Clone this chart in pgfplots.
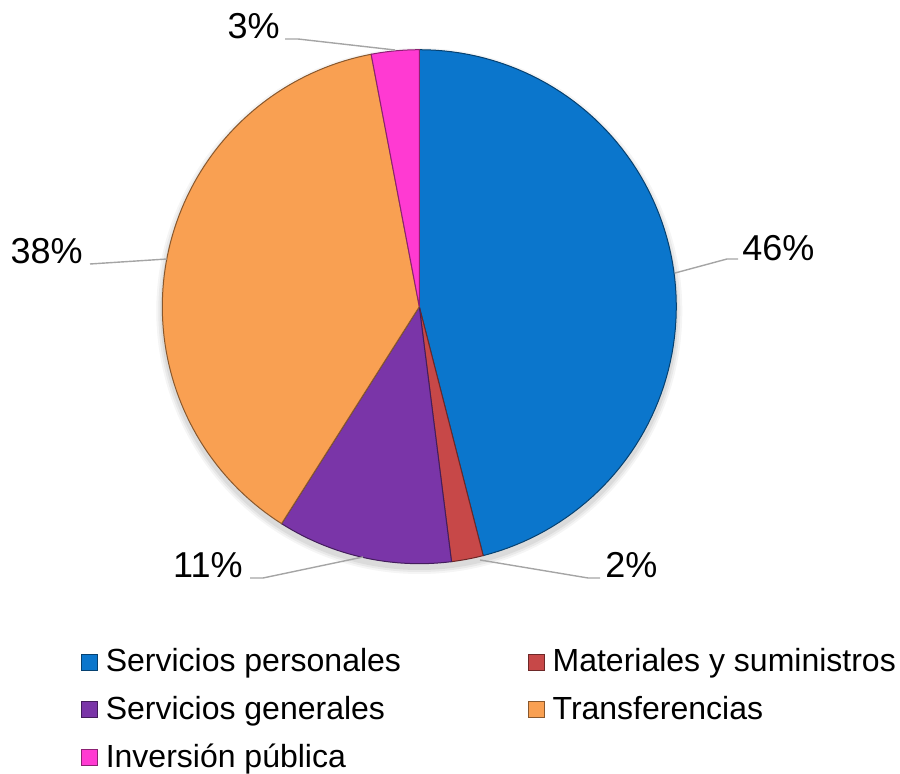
\documentclass[border=0pt]{standalone}
\usepackage{fontspec}
\setmainfont{Liberation Sans}
\usepackage{pgfplots}
\usepackage{pgfplotstable}
\pgfplotsset{compat=1.18}

\definecolor{cBlue}{RGB}{11,118,204}
\definecolor{cRed}{RGB}{199,72,72}
\definecolor{cPurple}{RGB}{122,53,168}
\definecolor{cOrange}{RGB}{249,160,82}
\definecolor{cMagenta}{RGB}{255,58,210}
\definecolor{cLead}{RGB}{165,165,165}

% share of each item, in percent, clockwise from 12 o'clock
\pgfplotstableread{
share
46
2
11
38
3
}\sharetable

\begin{document}
\begin{tikzpicture}[x=0.5pt, y=-0.5pt]
\path[use as bounding box] (0,0) rectangle (900,774);

% cumulative angles of the slice edges
\pgfmathsetmacro\angA{90}
\pgfplotstablegetelem{0}{share}\of\sharetable \pgfmathsetmacro\angB{\angA-3.6*\pgfplotsretval}
\pgfplotstablegetelem{1}{share}\of\sharetable \pgfmathsetmacro\angC{\angB-3.6*\pgfplotsretval}
\pgfplotstablegetelem{2}{share}\of\sharetable \pgfmathsetmacro\angD{\angC-3.6*\pgfplotsretval}
\pgfplotstablegetelem{3}{share}\of\sharetable \pgfmathsetmacro\angE{\angD-3.6*\pgfplotsretval}
\pgfplotstablegetelem{4}{share}\of\sharetable \pgfmathsetmacro\angF{\angE-3.6*\pgfplotsretval}

% soft shadow under the pie
\foreach \r/\o in {131.5pt/0.04, 130.5pt/0.05, 129.5pt/0.06}
  \fill[black, opacity=\o] (419.3,311) circle[radius=\r];

\begin{axis}[
    at={(209.65pt,-153.35pt)}, anchor=center,
    scale only axis, width=257pt, height=257pt,
    xmin=-1, xmax=1, ymin=-1, ymax=1,
    hide axis,
    clip=false,
    legend columns=2,
    legend cell align=left,
    legend image code/.code={\draw[#1, line width=0.4pt] (0pt,-4pt) rectangle (8pt,4pt);},
    legend style={
        at={(-0.1582,-0.1640)}, anchor=north west,
        draw=none, fill=none, inner sep=0pt, outer sep=0pt,
        font=\fontsize{16pt}{19pt}\selectfont,
        nodes={inner sep=0pt, text height=12pt, text depth=2pt},
        row sep=9.8pt,
        /tikz/every odd column/.append style={column sep=4pt},
        /tikz/every even column/.append style={column sep=63.4pt},
    },
    every axis plot/.append style={line width=0.5pt, samples=90},
]
\addplot[fill=cBlue, draw=cBlue!55!black, domain=\angB:\angA]
    ({cos(x)}, {sin(x)}) -- (axis cs:0,0) -- cycle;
\addlegendentry{Servicios personales}
\addplot[fill=cRed, draw=cRed!55!black, domain=\angC:\angB, samples=10]
    ({cos(x)}, {sin(x)}) -- (axis cs:0,0) -- cycle;
\addlegendentry{Materiales y suministros}
\addplot[fill=cPurple, draw=cPurple!55!black, domain=\angD:\angC, samples=30]
    ({cos(x)}, {sin(x)}) -- (axis cs:0,0) -- cycle;
\addlegendentry{Servicios generales}
\addplot[fill=cOrange, draw=cOrange!55!black, domain=\angE:\angD]
    ({cos(x)}, {sin(x)}) -- (axis cs:0,0) -- cycle;
\addlegendentry{Transferencias}
\addplot[fill=cMagenta, draw=cMagenta!55!black, domain=\angF:\angE, samples=10]
    ({cos(x)}, {sin(x)}) -- (axis cs:0,0) -- cycle;
\addlegendentry{Inversión pública}
\end{axis}

% leader lines and percentage labels
\begin{scope}[cLead, line width=0.7pt]
\draw (675,273) -- (727,259) -- (738,259);
\draw (480,560) -- (588,578) -- (600,578);
\draw (363,557) -- (263,578) -- (250,578);
\draw (167,259) -- (90,264);
\draw (395,50) -- (298,39) -- (285,39);
\end{scope}
\begin{scope}[every node/.style={inner sep=0pt, font=\fontsize{18pt}{21pt}\selectfont}]
\node[anchor=base west] at (742,261) {46\%};
\node[anchor=base west] at (605,578) {2\%};
\node[anchor=base east] at (243,578) {11\%};
\node[anchor=base east] at (83,264) {38\%};
\node[anchor=base east] at (280,39) {3\%};
\end{scope}
\end{tikzpicture}
\end{document}
